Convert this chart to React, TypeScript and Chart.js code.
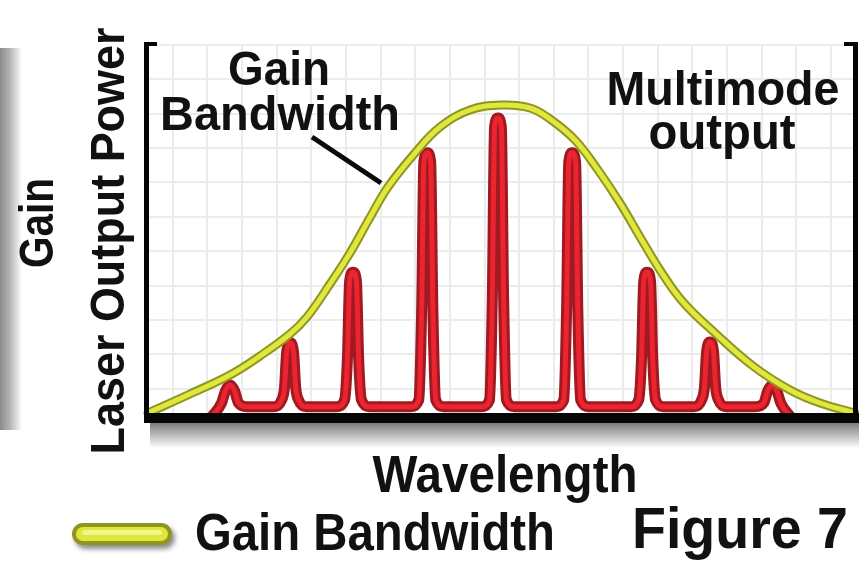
import React, { useEffect, useRef } from 'react';
import { Chart, registerables } from 'chart.js';

Chart.register(...registerables);

// Gain bandwidth envelope (wavelength in arbitrary units, gain in arbitrary units)
const gainX = [0, 5.94, 11.6, 15.84, 20.08, 22.49, 25.46, 28.57, 31.12, 33.95, 37.77, 41.3, 45.54, 50.07, 54.03, 56.86, 60.4, 63.65, 66.76, 69.59, 72.42, 75.67, 80.2, 85.57, 90.81, 95.05, 100];
const gainY = [1.34, 6.42, 11.5, 16.58, 22.46, 27.01, 35.03, 44.12, 52.67, 61.76, 70.86, 77.81, 82.35, 83.69, 82.89, 79.95, 74.33, 66.31, 57.49, 48.4, 39.57, 31.02, 22.73, 13.9, 7.49, 4.01, 1.34];

// Multimode laser output (longitudinal modes)
const modeX = [
  9.0, 10.4, 10.95, 11.6, 12.25, 12.8, 14.0,
  17.8, 18.9, 19.3, 19.62, 20.1, 20.58, 20.9, 21.3, 22.4,
  26.7, 27.8, 28.2, 28.52, 29.0, 29.48, 29.8, 30.2, 31.3,
  37.2, 38.3, 38.7, 39.02, 39.5, 39.98, 40.3, 40.7, 41.8,
  47.2, 48.3, 48.7, 49.02, 49.5, 49.98, 50.3, 50.7, 51.8,
  57.7, 58.8, 59.2, 59.52, 60.0, 60.48, 60.8, 61.2, 62.3,
  68.3, 69.4, 69.8, 70.12, 70.6, 71.08, 71.4, 71.8, 72.9,
  77.2, 78.3, 78.7, 79.02, 79.5, 79.98, 80.3, 80.7, 81.8,
  85.9, 87.1, 87.65, 88.3, 88.95, 89.5, 90.9,
];
const modeY = [
  0.3, 4.0, 7.2, 8.8, 7.2, 4.0, 3.0,
  3.0, 4.8, 8.0, 17.7, 20.1, 17.7, 8.0, 4.8, 3.0,
  3.0, 4.8, 15.6, 36.6, 39.0, 36.6, 15.6, 4.8, 3.0,
  3.0, 4.8, 28.4, 68.5, 70.9, 68.5, 28.4, 4.8, 3.0,
  3.0, 4.8, 32.1, 77.8, 80.2, 77.8, 32.1, 4.8, 3.0,
  3.0, 4.8, 28.4, 68.5, 70.9, 68.5, 28.4, 4.8, 3.0,
  3.0, 4.8, 15.6, 36.6, 39.0, 36.6, 15.6, 4.8, 3.0,
  3.0, 4.8, 8.1, 17.9, 20.3, 17.9, 8.1, 4.8, 3.0,
  3.0, 4.0, 7.2, 8.8, 7.2, 4.0, 0.3,
];

// background grid positions
const xGridTicks = [3.5, 8.4, 13.3, 18.2, 23.1, 28.0, 32.9, 37.8, 42.7, 47.6, 52.5, 57.4, 62.3, 67.2, 72.1, 77.0, 81.9, 86.8, 91.7, 96.6];
const yGridTicks = [7.8, 17.0, 26.2, 35.4, 44.6, 53.8, 63.0, 72.2, 81.4, 90.6, 99.8];

const FONT = '"Liberation Sans", Arial, Helvetica, sans-serif';

function drawText(ctx: CanvasRenderingContext2D, s: string, x: number, y: number, size: number, width: number, rot = 0) {
  ctx.save();
  ctx.font = `bold ${size}px ${FONT}`;
  const w = ctx.measureText(s).width;
  ctx.translate(x, y);
  ctx.rotate(rot);
  ctx.scale(width / w, 1);
  ctx.textAlign = 'center';
  ctx.textBaseline = 'alphabetic';
  ctx.fillStyle = '#111111';
  ctx.fillText(s, 0, 0);
  ctx.restore();
}

function roundRect(ctx: CanvasRenderingContext2D, x: number, y: number, w: number, h: number, r: number) {
  ctx.beginPath();
  ctx.moveTo(x + r, y);
  ctx.lineTo(x + w - r, y);
  ctx.arc(x + w - r, y + r, r, -Math.PI / 2, Math.PI / 2);
  ctx.lineTo(x + r, y + h);
  ctx.arc(x + r, y + r, r, Math.PI / 2, Math.PI * 1.5);
  ctx.closePath();
}

const decorPlugin = {
  id: 'decor',
  beforeDraw(chart: any) {
    const ctx = chart.ctx as CanvasRenderingContext2D;
    ctx.save();
    ctx.fillStyle = '#ffffff';
    ctx.fillRect(0, 0, chart.width, chart.height);
    // left grey bar
    const g = ctx.createLinearGradient(0, 0, 22, 0);
    g.addColorStop(0, '#8a8a8a');
    g.addColorStop(0.45, '#b5b5b5');
    g.addColorStop(1, '#ffffff');
    ctx.fillStyle = g;
    ctx.fillRect(0, 48, 22, 382);
    ctx.restore();
  },
  afterDatasetsDraw(chart: any) {
    const ctx = chart.ctx as CanvasRenderingContext2D;
    const a = chart.chartArea;
    ctx.save();
    // shadow under bottom axis
    const sg = ctx.createLinearGradient(0, a.bottom + 5, 0, a.bottom + 30);
    sg.addColorStop(0, '#7c7c7c');
    sg.addColorStop(0.5, '#bdbdbd');
    sg.addColorStop(1, '#ffffff');
    ctx.fillStyle = sg;
    ctx.fillRect(a.left + 2, a.bottom + 5, chart.width - a.left, 25);
    // frame
    ctx.fillStyle = '#050505';
    ctx.fillRect(a.left - 4, a.top - 2, 5, a.bottom - a.top + 7);
    ctx.fillRect(a.left - 4, a.top - 2, 13, 4);
    ctx.fillRect(a.right - 2, a.top - 2, 5, a.bottom - a.top + 7);
    ctx.fillRect(a.right - 11, a.top - 2, 14, 4);
    ctx.fillRect(a.left - 4, a.bottom - 5, chart.width - a.left + 4, 10);

    // leader line
    ctx.strokeStyle = '#0a0a0a';
    ctx.lineWidth = 5;
    ctx.beginPath();
    ctx.moveTo(312, 137);
    ctx.lineTo(381, 183);
    ctx.stroke();

    // texts
    drawText(ctx, 'Gain', 279, 85, 49, 102);
    drawText(ctx, 'Bandwidth', 280, 130, 49, 240);
    drawText(ctx, 'Multimode', 723, 105, 49, 233);
    drawText(ctx, 'output', 722, 149, 50, 147);
    drawText(ctx, 'Laser Output Power', 124, 241, 49, 427, -Math.PI / 2);
    drawText(ctx, 'Gain', 53, 223, 49, 90, -Math.PI / 2);
    drawText(ctx, 'Wavelength', 505, 492, 51, 265);
    drawText(ctx, 'Gain Bandwidth', 375, 550, 51, 360);
    drawText(ctx, 'Figure 7', 740, 548, 57, 216);

    // legend pill
    ctx.save();
    ctx.shadowColor = 'rgba(0,0,0,0.45)';
    ctx.shadowBlur = 5;
    ctx.shadowOffsetX = 3;
    ctx.shadowOffsetY = 4;
    roundRect(ctx, 72, 523, 100, 22, 11);
    ctx.fillStyle = '#8f961f';
    ctx.fill();
    ctx.restore();
    roundRect(ctx, 76, 527, 92, 14, 7);
    ctx.fillStyle = '#dfe63c';
    ctx.fill();
    roundRect(ctx, 82, 530, 80, 5, 2.5);
    ctx.fillStyle = '#f1f58a';
    ctx.fill();
    ctx.restore();
  },
};

export default function App() {
  const ref = useRef<HTMLCanvasElement | null>(null);
  useEffect(() => {
    if (!ref.current) return;
    const gainPts = gainX.map((x, i) => ({ x, y: gainY[i] }));
    const modePts = modeX.map((x, i) => ({ x, y: modeY[i] }));
    const base = {
      pointRadius: 0,
      fill: false,
      clip: false as any,
      borderJoinStyle: 'round' as const,
      borderCapStyle: 'round' as const,
    };
    const gainStyle = { ...base, tension: 0.4 };
    const modeStyle = { ...base, cubicInterpolationMode: 'monotone' as const };
    const chart = new Chart(ref.current, {
      type: 'line',
      data: {
        datasets: [
          { ...gainStyle, label: 'Gain Bandwidth', data: gainPts, borderColor: '#e0e73e', borderWidth: 5, order: 0 },
          { ...gainStyle, label: 'gain-edge', data: gainPts, borderColor: '#8f961f', borderWidth: 9, order: 1 },
          { ...modeStyle, label: 'Multimode output', data: modePts, borderColor: '#ec2430', borderWidth: 5, order: 2 },
          { ...modeStyle, label: 'mode-edge', data: modePts, borderColor: '#a01a22', borderWidth: 11, order: 3 },
        ],
      },
      options: {
        responsive: false,
        maintainAspectRatio: false,
        animation: false,
        devicePixelRatio: 1,
        layout: { padding: { left: 148, right: 4, top: 44, bottom: 150 } },
        plugins: { legend: { display: false }, tooltip: { enabled: false }, title: { display: false } },
        events: [],
        scales: {
          x: {
            type: 'linear',
            min: 0,
            max: 100,
            afterBuildTicks: (s: any) => { s.ticks = xGridTicks.map((v) => ({ value: v })); },
            afterFit: (s: any) => { s.height = 0; },
            ticks: { display: false },
            grid: { color: '#ececec', lineWidth: 2, drawTicks: false },
            border: { display: false },
          },
          y: {
            type: 'linear',
            min: 0,
            max: 100,
            afterBuildTicks: (s: any) => { s.ticks = yGridTicks.map((v) => ({ value: v })); },
            afterFit: (s: any) => { s.width = 0; },
            ticks: { display: false },
            grid: { color: '#ececec', lineWidth: 2, drawTicks: false },
            border: { display: false },
          },
        },
      },
      plugins: [decorPlugin],
    });
    return () => chart.destroy();
  }, []);
  return (
    <div style={{ position: 'absolute', left: 0, top: 0, width: 859, height: 568 }}>
      <canvas ref={ref} width={859} height={568} style={{ display: 'block' }} />
    </div>
  );
}
